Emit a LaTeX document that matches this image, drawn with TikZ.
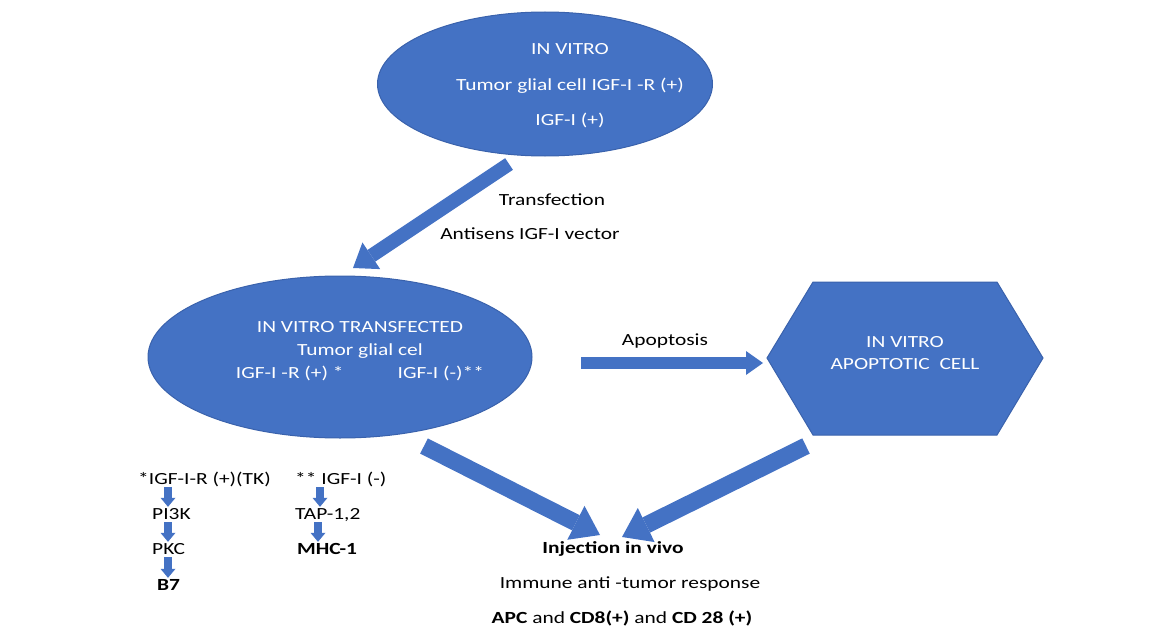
\documentclass[tikz,border=0pt]{standalone}
\usepackage{fontspec}
\setmainfont{Carlito}[FakeStretch=1.26]
\usetikzlibrary{arrows.meta,shapes.geometric}
\definecolor{cellblue}{HTML}{4472C4}
\definecolor{celledge}{HTML}{3A62AC}

\begin{document}
\begin{tikzpicture}[x=1pt,y=-1pt,
  cell/.style={fill=cellblue,draw=celledge,line width=1pt},
  intext/.style={text=white,font=\fontsize{17}{20}\selectfont,align=center,inner sep=0pt},
  lbl/.style={font=\fontsize{17}{20}\selectfont,inner sep=0pt,text height=12pt,text depth=4pt},
  blockarrow/.style n args={3}{draw=cellblue,line width=#1,
    -{Triangle[width=#2,length=#3,line width=0pt]}},
  bigarrow/.style={blockarrow={17pt}{38pt}{27pt}},
  smallarrow/.style={blockarrow={8pt}{15pt}{9pt}}
]
\useasboundingbox (0,0) rectangle (1165,626);

% cell shapes
\node[cell,ellipse,minimum width=335pt,minimum height=144pt] (top) at (545,84) {};
\node[intext,font=\fontsize{17}{35.5}\selectfont] (toptxt) at (570,86)
  {IN VITRO\\Tumor glial cell IGF-I -R (+)\\IGF-I (+)};

\node[cell,ellipse,minimum width=384pt,minimum height=162pt] (mid) at (340,357) {};
\node[intext,font=\fontsize{17}{23}\selectfont] (midtxt) at (360,351)
  {IN VITRO TRANSFECTED\\Tumor glial cel\\IGF-I -R (+) *\hspace{54pt}IGF-I (-)**};

\draw[cell] (767,358) -- (813,282) -- (997,282) -- (1043,358) -- (997,435) -- (813,435) -- cycle;
\node[intext,font=\fontsize{17}{22}\selectfont] (apo) at (905,353)
  {IN VITRO\\APOPTOTIC\ \ CELL};

% labels on the transitions
\node[lbl] (transf) at (552,201) {Transfection};
\node[lbl] (antis) at (530,235) {Antisens IGF-I vector};
\node[lbl] (apolbl) at (665,341) {Apoptosis};

% outcome in vivo
\node[lbl] (inj) at (613,549) {\bfseries Injection in vivo};
\node[lbl] (immune) at (630,584) {Immune anti -tumor response};
\node[lbl] (apc) at (622,619) {\textbf{APC} and \textbf{CD8(+)} and \textbf{CD 28 (+)}};

% signalling pathways
\node[lbl,anchor=west] (igfr) at (138,480.5) {*IGF-I-R (+)(TK)};
\node[lbl,anchor=west] (pi3k) at (152,515.5) {PI3K};
\node[lbl,anchor=west] (pkc) at (152,550.5) {PKC};
\node[lbl,anchor=west] (b7) at (157,586.5) {\bfseries B7};
\node[lbl,anchor=west] (igfm) at (295,480.5) {** IGF-I (-)};
\node[lbl,anchor=west] (tap) at (295,515.5) {TAP-1,2};
\node[lbl,anchor=west] (mhc) at (297,550.5) {\bfseries MHC-1};

% arrow end points
\coordinate (ta) at (509,164);
\coordinate (tb) at (353,268);
\coordinate (aa) at (581,363);
\coordinate (ab) at (763,363);
\coordinate (la) at (424,446);
\coordinate (lb) at (600,535);
\coordinate (ra) at (806,446);
\coordinate (rb) at (622,537);

\draw[blockarrow={14pt}{32pt}{22pt}] (ta) -- (tb);
\draw[blockarrow={12pt}{24pt}{17pt}] (aa) -- (ab);
\draw[bigarrow] (la) -- (lb);
\draw[bigarrow] (ra) -- (rb);

\draw[smallarrow] ([yshift=1.5pt]igfr.south -| 168,0) -- ([yshift=0.5pt]pi3k.north -| 168,0);
\draw[smallarrow] ([yshift=1.5pt]pi3k.south -| 168,0) -- ([yshift=0.5pt]pkc.north -| 168,0);
\draw[smallarrow] ([yshift=1.5pt]pkc.south -| 168,0) -- ([yshift=0.5pt]b7.north -| 168,0);
\draw[smallarrow] ([yshift=1.5pt]igfm.south -| 320,0) -- ([yshift=0.5pt]tap.north -| 320,0);
\draw[smallarrow] ([yshift=1.5pt]tap.south -| 318,0) -- ([yshift=0.5pt]mhc.north -| 318,0);
\end{tikzpicture}
\end{document}
